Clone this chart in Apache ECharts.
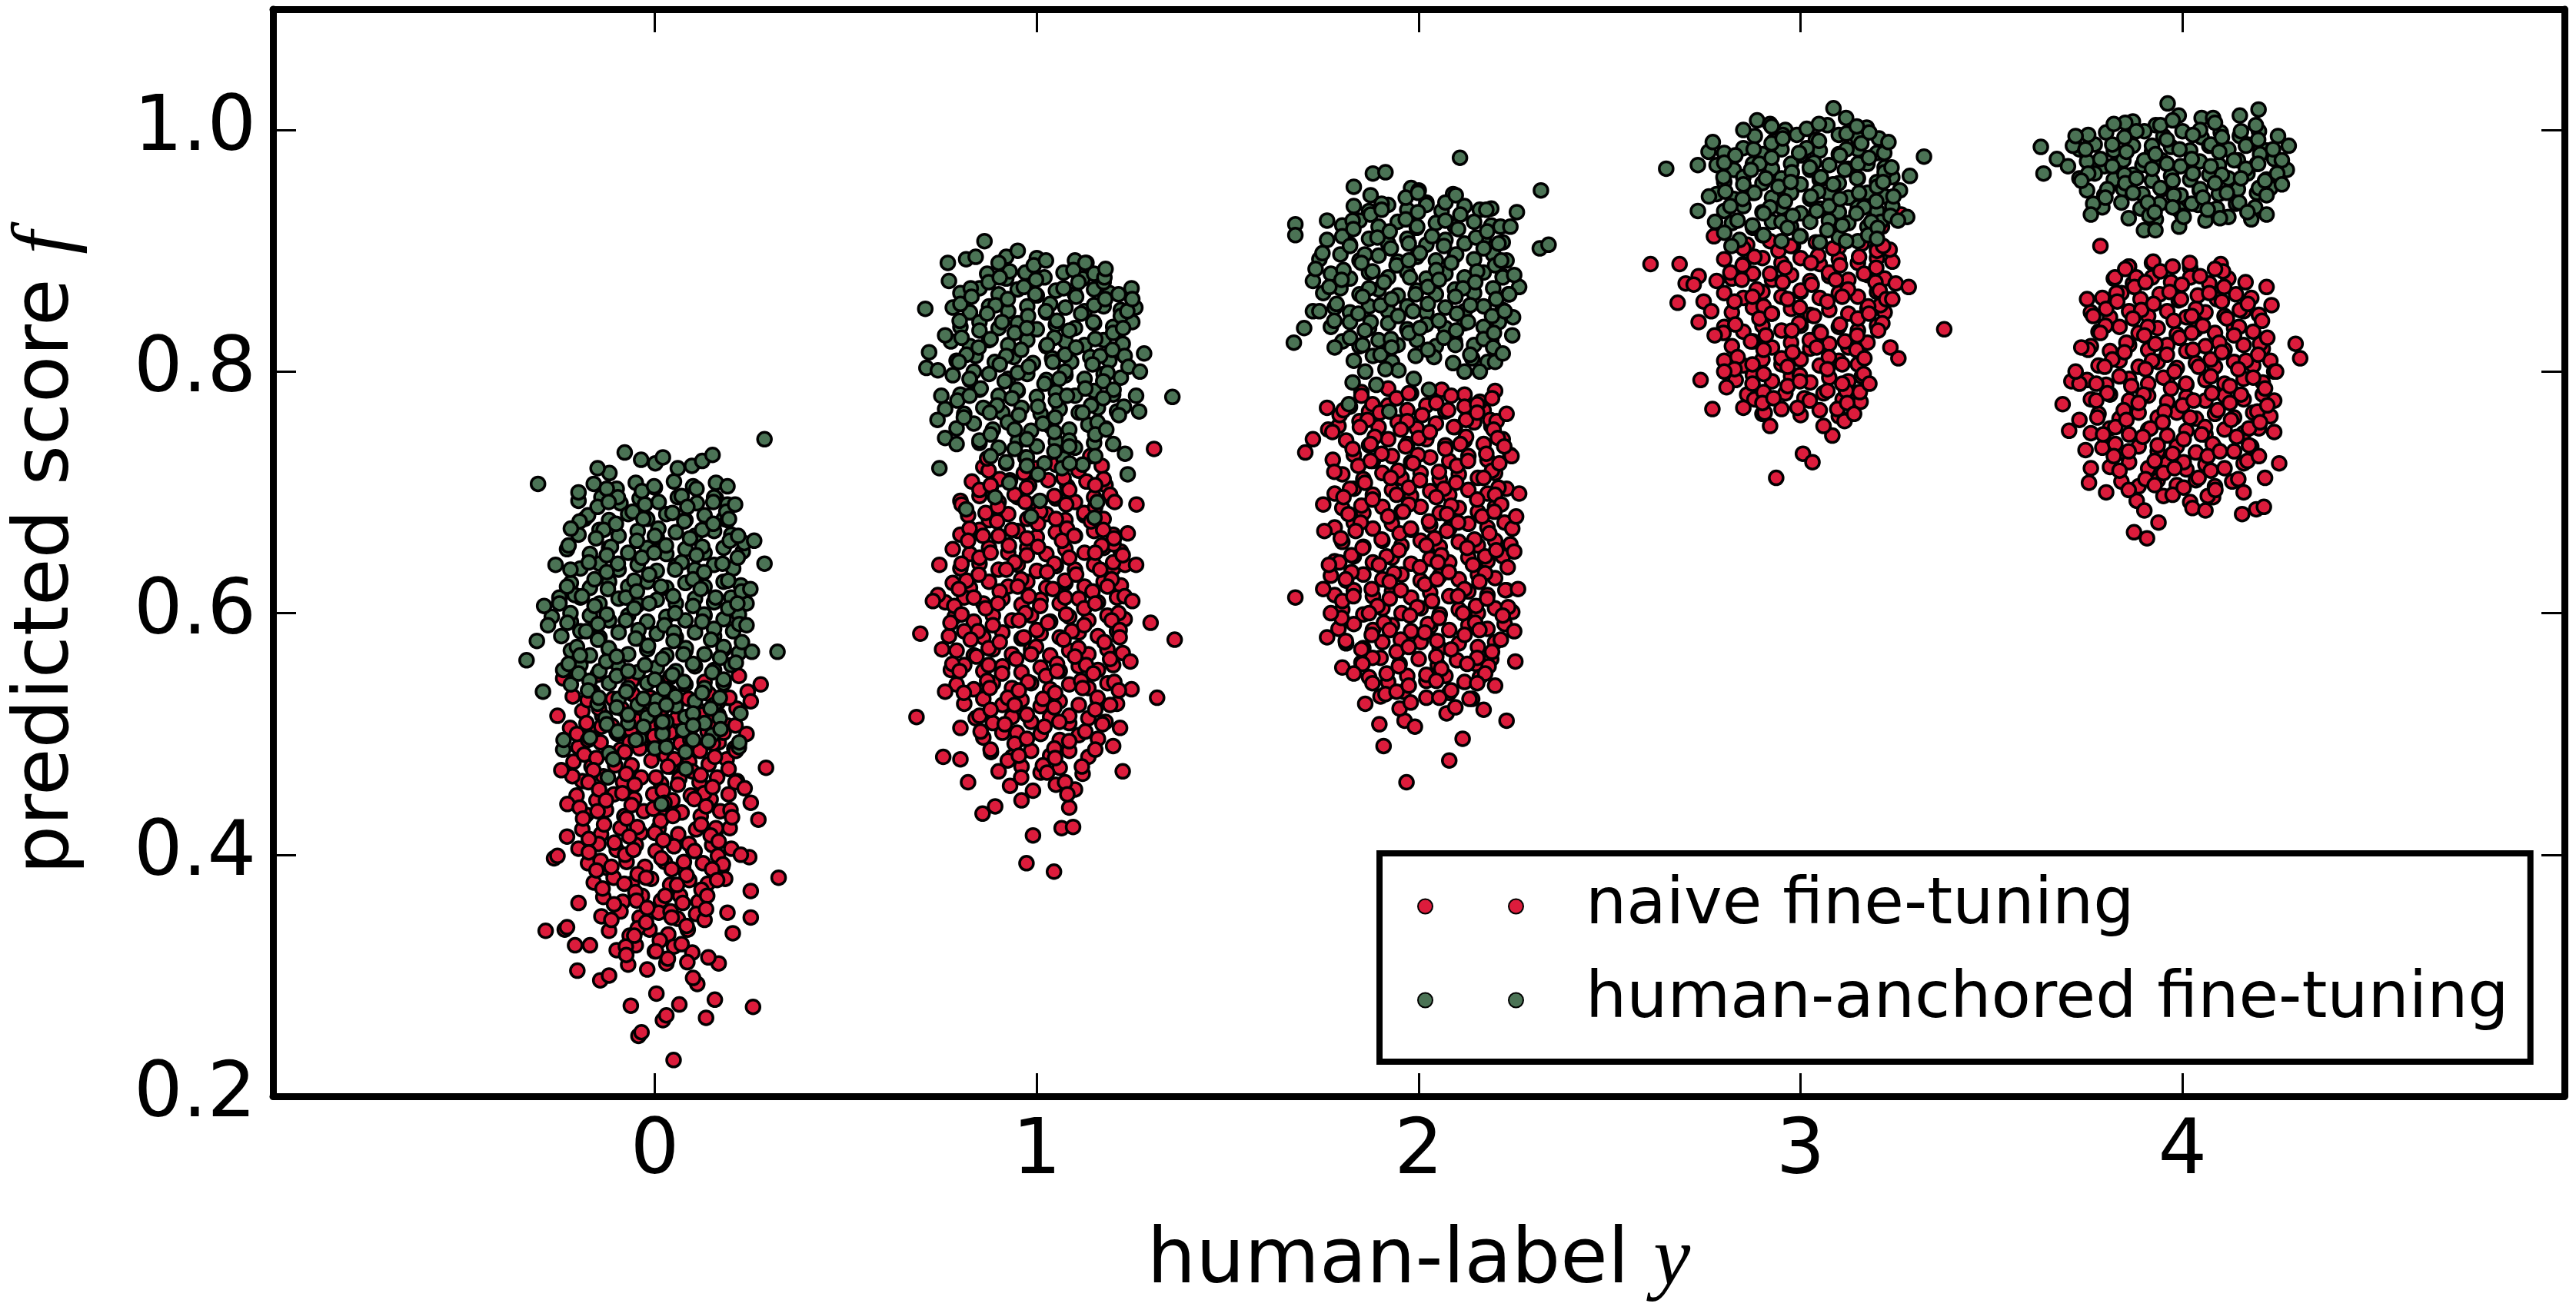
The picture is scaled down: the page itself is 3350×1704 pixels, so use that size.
<!DOCTYPE html>
<html>
<head>
<meta charset="utf-8">
<script src="https://cdn.jsdelivr.net/npm/echarts@6.0.0/dist/echarts.min.js"></script>
<style>
html,body{margin:0;padding:0;background:#fff;}
#chart{width:3350px;height:1704px;}
</style>
</head>
<body>
<div id="chart"></div>
<script>
// ---- axes / labels ----
const xTicks = [0, 1, 2, 3, 4];
const yTicks = [0.2, 0.4, 0.6, 0.8, 1.0];
const seriesNames = ['naive fine-tuning', 'human-anchored fine-tuning'];
const xTitle = 'human-label ';
const xTitleVar = 'y';
const yTitle = 'predicted score ';
const yTitleVar = 'f';

// ---- naive fine-tuning points [human label + jitter, score] ----
const naive0 = [
[-0.24,.546],[-0.15,.549],[-0.06,.544],[0.04,.547],[0.13,.543],[0.22,.548],
[-0.215,.531],[-0.163,.535],[-0.11,.529],[-0.058,.533],[-0.012,.53],[0.042,.534],[0.088,.529],[0.142,.533],[0.19,.53],[0.243,.535],
[-0.19,.519],[-0.138,.515],[-0.087,.521],[-0.033,.517],[0.017,.52],[0.063,.515],[0.117,.519],[0.166,.516],[0.214,.521],
[-0.222,.505],[-0.165,.501],[-0.113,.507],[-0.062,.503],[-0.008,.506],[0.04,.501],[0.092,.505],[0.138,.502],[0.19,.507],
[-0.2,.489],[-0.142,.493],[-0.09,.487],[-0.036,.491],[0.016,.488],[0.067,.492],[0.113,.489],[0.167,.493],[0.208,.488],
[-0.213,.477],[-0.166,.473],[-0.108,.479],[-0.061,.474],[-0.009,.478],[0.042,.473],[0.09,.477],[0.141,.475],[0.188,.479],
[-0.19,.461],[-0.135,.465],[-0.083,.46],[-0.036,.464],[0.016,.459],[0.064,.463],[0.117,.46],[0.163,.464],[0.215,.461],
[-0.205,.449],[-0.153,.445],[-0.107,.45],[-0.054,.446],[-0.004,.45],[0.046,.445],[0.094,.449],[0.146,.446],[0.193,.45],
[-0.18,.433],[-0.128,.437],[-0.08,.432],[-0.029,.436],[0.022,.431],[0.07,.435],[0.12,.432],[0.171,.436],
[-0.19,.421],[-0.141,.417],[-0.09,.422],[-0.038,.418],[0.01,.422],[0.061,.417],[0.108,.421],[0.158,.418],[0.196,.422],
[-0.2,.405],[-0.148,.409],[-0.1,.404],[-0.05,.408],[0.002,.403],[0.05,.407],[0.1,.404],[0.15,.408],[0.2,.405],
[-0.175,.393],[-0.124,.389],[-0.074,.394],[-0.026,.39],[0.026,.394],[0.074,.389],[0.126,.393],[0.176,.39],
[-0.16,.377],[-0.108,.381],[-0.06,.376],[-0.01,.38],[0.04,.375],[0.09,.379],[0.138,.376],[0.184,.38],
[-0.135,.365],[-0.084,.361],[-0.034,.366],[0.016,.362],[0.066,.366],[0.114,.361],
[-0.14,.349],[-0.09,.353],[-0.04,.348],[0.01,.352],[0.06,.347],[0.108,.351],[0.13,.346],
[-0.12,.337],[-0.066,.333],[-0.014,.338],[0.035,.334],[0.086,.338],
[-0.1,.321],[-0.05,.325],[0.0,.32],[0.05,.324],[0.098,.319],
[-0.07,.309],[-0.02,.305],[0.03,.31],
[0.049,.23],[-0.043,.25],[-0.035,.253],[0.257,.274],[0.134,.265],[0.021,.263],[0.03,.267],[-0.063,.275],[-0.203,.304],[-0.143,.296],
[-0.286,.337],[-0.236,.338],[-0.23,.34],[-0.209,.325],[-0.264,.397],[-0.255,.399],[0.324,.381],[0.291,.472],[0.271,.429],[0.251,.348],
[0.251,.37],[0.204,.335],[0.157,.28],[0.167,.31],[0.111,.293],[0.064,.276],[0.004,.285],[0.247,.398],[0.251,.443],[0.277,.541],
[0.251,.527],[-0.229,.442],[-0.184,.678]
];
const naive0b = [
[-0.176,.528],[-0.146,.521],[0.165,.526],[0.195,.53],
[-0.179,.509],[-0.14,.506],[-0.071,.515],[-0.049,.511],[0.018,.508],[0.057,.513],[0.124,.516],[0.146,.51],[0.211,.507],
[-0.204,.5],[-0.175,.495],[-0.097,.5],[-0.066,.493],[-0.002,.498],[0.02,.502],[0.093,.495],[0.152,.492],[0.18,.501],
[-0.185,.483],[-0.153,.48],[-0.079,.485],[-0.04,.488],[0.029,.482],[0.051,.479],[0.118,.486],[0.157,.481],[0.212,.486],
[-0.216,.465],[-0.161,.47],[-0.104,.474],[-0.075,.467],[0.003,.464],[0.034,.473],[0.098,.469],[0.12,.466],[0.193,.471],
[-0.174,.46],[-0.146,.454],[-0.085,.451],[-0.053,.458],[0.021,.453],[0.06,.458],[0.129,.451],[0.151,.456],[0.211,.46],
[-0.197,.439],[-0.15,.436],[-0.128,.445],[-0.061,.441],[-0.004,.438],[0.025,.443],[0.103,.446],[0.134,.44],[0.198,.437],
[-0.188,.43],[-0.133,.425],[-0.074,.43],[-0.046,.423],[0.015,.428],[0.047,.432],[0.121,.425],[0.16,.422],[0.202,.431],
[-0.173,.413],[-0.106,.41],[-0.067,.415],[0.0,.418],[0.022,.412],[0.089,.409],[0.146,.416],[0.167,.411],
[-0.173,.402],[-0.142,.395],[-0.078,.4],[-0.056,.404],[0.017,.397],[0.076,.394],[0.104,.403],[0.165,.399],[0.178,.392],
[-0.153,.387],[-0.114,.39],[-0.045,.384],[-0.023,.381],[0.044,.388],[0.083,.383],[0.15,.388],[0.163,.379],
[-0.137,.372],[-0.08,.376],[-0.051,.369],[0.027,.366],[0.058,.375],[0.122,.371],[0.137,.366],
[-0.107,.359],[-0.048,.362],[-0.02,.356],[0.041,.353],[0.073,.36],[0.134,.355],
[-0.114,.346],[-0.045,.339],[-0.023,.344],[0.044,.348],[0.083,.341],
[-0.076,.324],[-0.054,.333],[0.013,.329],[0.07,.326],
[-0.075,.317],[0.003,.32],[0.034,.314],[0.085,.311],
[-0.245,.47],[0.235,.455],[-0.23,.415],[0.225,.4],[-0.2,.36],[0.19,.352],[-0.17,.325],[0.14,.315],[-0.12,.3],[0.1,.298],[0.24,.5],[-0.255,.515]
];
const naive1 = [
[0.86,.721],[0.92,.724],[0.98,.72],[1.05,.723],[1.11,.719],[1.17,.722],
[0.83,.709],[0.88,.705],[0.93,.71],[0.98,.706],[1.03,.71],[1.08,.705],[1.13,.709],[1.18,.706],
[0.8,.693],[0.85,.697],[0.9,.692],[0.95,.696],[1.0,.691],[1.05,.695],[1.1,.692],[1.15,.696],[1.2,.693],
[0.82,.681],[0.875,.677],[0.925,.682],[0.975,.678],[1.025,.682],[1.075,.677],[1.125,.681],[1.175,.678],
[0.8,.665],[0.85,.669],[0.9,.664],[0.95,.668],[1.0,.663],[1.05,.667],[1.1,.664],[1.15,.668],[1.2,.665],
[0.78,.653],[0.825,.649],[0.875,.654],[0.925,.65],[0.975,.654],[1.025,.649],[1.075,.653],[1.125,.65],[1.175,.654],[1.22,.651],
[0.8,.637],[0.85,.641],[0.9,.636],[0.95,.64],[1.0,.635],[1.05,.639],[1.1,.636],[1.15,.64],[1.2,.637],
[0.78,.625],[0.825,.621],[0.875,.626],[0.925,.622],[0.975,.626],[1.025,.621],[1.075,.625],[1.125,.622],[1.175,.626],[1.22,.623],
[0.76,.609],[0.81,.613],[0.86,.608],[0.91,.612],[0.96,.607],[1.01,.611],[1.06,.608],[1.11,.612],[1.16,.609],[1.21,.613],
[0.785,.597],[0.835,.593],[0.885,.598],[0.935,.594],[0.985,.598],[1.035,.593],[1.085,.597],[1.135,.594],[1.185,.598],[1.23,.595],
[0.77,.581],[0.81,.585],[0.86,.58],[0.91,.584],[0.96,.579],[1.01,.583],[1.06,.58],[1.11,.584],[1.16,.581],[1.21,.585],
[0.79,.569],[0.835,.565],[0.885,.57],[0.935,.566],[0.985,.57],[1.035,.565],[1.085,.569],[1.135,.566],[1.185,.57],[1.225,.567],
[0.775,.553],[0.81,.557],[0.86,.552],[0.91,.556],[0.96,.551],[1.01,.555],[1.06,.552],[1.11,.556],[1.16,.553],[1.2,.557],
[0.79,.541],[0.835,.537],[0.885,.542],[0.935,.538],[0.985,.542],[1.035,.537],[1.085,.541],[1.135,.538],[1.185,.542],
[0.81,.525],[0.86,.529],[0.91,.524],[0.96,.528],[1.01,.523],[1.06,.527],[1.11,.524],[1.16,.528],[1.21,.525],
[0.84,.513],[0.885,.509],[0.935,.514],[0.985,.51],[1.035,.514],[1.085,.509],[1.135,.513],[1.18,.51],
[0.86,.497],[0.91,.501],[0.96,.496],[1.01,.5],[1.06,.495],[1.11,.499],[1.16,.496],
[0.88,.485],[0.935,.481],[0.985,.486],[1.035,.482],[1.085,.486],[1.135,.481],
[0.9,.469],[0.96,.473],[1.01,.468],[1.06,.472],[1.12,.467],
[0.93,.457],[0.99,.453],[1.05,.458],[1.1,.454],
[0.685,.514],[0.695,.583],[0.741,.615],[0.728,.61],[1.307,.736],[1.261,.69],[1.298,.592],[1.361,.578],[1.315,.53],[1.248,.537],
[1.218,.505],[1.225,.469],[0.755,.481],[0.8,.479],[0.973,.393],[1.045,.386],[0.99,.416],[1.065,.422],[1.095,.423],[0.858,.434],
[0.891,.44],[1.085,.439],[1.231,.64],[1.238,.666],[1.201,.657],[0.82,.46]
];
const naive1b = [
[0.874,.718],[0.903,.711],[0.966,.716],[0.998,.72],[1.07,.712],[1.109,.718],[1.175,.711],
[0.85,.702],[0.879,.706],[0.942,.698],[0.974,.704],[1.046,.697],[1.085,.702],[1.153,.706],[1.192,.698],
[0.803,.69],[0.866,.683],[0.898,.688],[0.97,.692],[1.009,.684],[1.077,.69],[1.124,.683],[1.153,.688],[1.204,.692],
[0.824,.67],[0.896,.676],[0.935,.669],[1.003,.674],[1.05,.678],[1.079,.67],[1.142,.676],[1.174,.669],
[0.82,.66],[0.859,.664],[0.927,.656],[0.974,.662],[1.003,.655],[1.066,.66],[1.098,.664],[1.17,.656],[1.202,.662],
[0.803,.641],[0.85,.646],[0.879,.65],[0.942,.642],[0.974,.648],[1.046,.641],[1.085,.646],[1.153,.65],[1.2,.642],[1.225,.648],
[0.816,.627],[0.848,.632],[0.92,.636],[0.959,.628],[1.027,.634],[1.074,.627],[1.103,.632],[1.166,.636],[1.196,.628],
[0.796,.62],[0.835,.613],[0.903,.618],[0.95,.622],[0.979,.614],[1.042,.62],[1.074,.613],[1.146,.618],[1.185,.622],[1.23,.614],
[0.784,.606],[0.803,.599],[0.866,.604],[0.898,.608],[0.97,.6],[1.009,.606],[1.077,.599],[1.124,.604],[1.153,.608],[1.214,.6],
[0.774,.592],[0.846,.585],[0.885,.59],[0.953,.594],[1.0,.586],[1.029,.592],[1.092,.585],[1.124,.59],[1.196,.594],[1.217,.586],
[0.827,.578],[0.874,.571],[0.903,.576],[0.966,.58],[0.998,.572],[1.07,.578],[1.109,.571],[1.177,.576],[1.217,.58],
[0.779,.558],[0.842,.564],[0.874,.557],[0.946,.562],[0.985,.566],[1.053,.558],[1.1,.564],[1.129,.557],[1.192,.562],
[0.798,.552],[0.87,.544],[0.909,.55],[0.977,.543],[1.024,.548],[1.053,.552],[1.116,.544],[1.148,.55],[1.203,.543],
[0.809,.534],[0.877,.538],[0.924,.53],[0.953,.536],[1.016,.529],[1.048,.534],[1.12,.538],[1.159,.53],[1.215,.536],
[0.85,.515],[0.879,.52],[0.942,.524],[0.974,.516],[1.046,.522],[1.085,.515],[1.153,.52],[1.192,.524],
[0.853,.502],[0.916,.508],[0.948,.501],[1.02,.506],[1.059,.51],[1.127,.502],[1.172,.508],
[0.879,.487],[0.942,.492],[0.974,.496],[1.046,.488],[1.085,.494],[1.153,.487],
[0.924,.478],[0.953,.482],[1.016,.474],[1.048,.48],[1.118,.473],
[0.959,.464],[1.027,.468],[1.074,.46],
[0.745,.64],[0.752,.57],[0.76,.535],[1.25,.61],[1.245,.56],[1.26,.64],[0.8,.505],[1.2,.49],[0.87,.728],[1.14,.73],[0.96,.445],[1.08,.45]
];
const naive2 = [
[1.85,.783],[1.92,.786],[1.98,.782],[2.06,.785],[2.12,.781],[2.2,.784],
[1.82,.771],[1.87,.767],[1.92,.772],[1.97,.768],[2.02,.772],[2.07,.767],[2.12,.771],[2.17,.768],
[1.79,.755],[1.845,.759],[1.895,.754],[1.945,.758],[1.995,.753],[2.045,.757],[2.095,.754],[2.145,.758],[2.19,.755],
[1.81,.743],[1.87,.739],[1.92,.744],[1.97,.74],[2.02,.744],[2.07,.739],[2.12,.743],[2.17,.74],[2.22,.744],
[1.775,.727],[1.83,.731],[1.88,.726],[1.93,.73],[1.98,.725],[2.03,.729],[2.08,.726],[2.13,.73],[2.18,.727],[2.24,.731],
[1.8,.715],[1.855,.711],[1.905,.716],[1.955,.712],[2.005,.716],[2.055,.711],[2.105,.715],[2.155,.712],[2.2,.716],
[1.78,.699],[1.83,.703],[1.88,.698],[1.93,.702],[1.98,.697],[2.03,.701],[2.08,.698],[2.13,.702],[2.18,.699],[2.23,.703],
[1.8,.687],[1.855,.683],[1.905,.688],[1.955,.684],[2.005,.688],[2.055,.683],[2.105,.687],[2.155,.684],[2.2,.688],
[1.78,.671],[1.83,.675],[1.88,.67],[1.93,.674],[1.98,.669],[2.03,.673],[2.08,.67],[2.13,.674],[2.18,.671],[2.225,.675],
[1.8,.659],[1.855,.655],[1.905,.66],[1.955,.656],[2.005,.66],[2.055,.655],[2.105,.659],[2.155,.656],[2.2,.66],[2.24,.657],
[1.78,.643],[1.83,.647],[1.88,.642],[1.93,.646],[1.98,.641],[2.03,.645],[2.08,.642],[2.13,.646],[2.18,.643],[2.22,.647],
[1.77,.631],[1.81,.627],[1.855,.632],[1.905,.628],[1.955,.632],[2.005,.627],[2.055,.631],[2.105,.628],[2.155,.632],[2.2,.629],
[1.78,.615],[1.83,.619],[1.88,.614],[1.93,.618],[1.98,.613],[2.03,.617],[2.08,.614],[2.13,.618],[2.18,.615],[2.23,.619],
[1.8,.603],[1.855,.599],[1.905,.604],[1.955,.6],[2.005,.604],[2.055,.599],[2.105,.603],[2.155,.6],[2.2,.604],[2.245,.601],
[1.79,.587],[1.83,.591],[1.88,.586],[1.93,.59],[1.98,.585],[2.03,.589],[2.08,.586],[2.13,.59],[2.18,.587],[2.225,.591],
[1.81,.575],[1.855,.571],[1.905,.576],[1.955,.572],[2.005,.576],[2.055,.571],[2.105,.575],[2.155,.572],[2.2,.576],
[1.85,.559],[1.9,.563],[1.95,.558],[2.0,.562],[2.05,.557],[2.1,.561],[2.15,.558],[2.19,.562],
[1.87,.547],[1.92,.543],[1.97,.548],[2.02,.544],[2.07,.548],[2.12,.543],[2.16,.547],
[1.9,.531],[1.96,.535],[2.02,.53],[2.08,.534],[2.14,.529],
[1.968,.46],[2.08,.478],[1.908,.49],[1.897,.508],[1.963,.511],[1.99,.506],[2.115,.496],[2.23,.511],[2.253,.56],[1.8,.555],
[1.677,.613],[1.753,.668],[2.263,.699],[2.243,.73],[2.25,.651],[1.703,.733],[1.723,.744],[1.763,.752],[1.793,.764],[2.16,.775],
[2.187,.76],[1.913,.533],[2.073,.517],[2.133,.529],[2.183,.556],[1.76,.58],[1.75,.62]
];
const naive2b = [
[1.85,.78],[1.879,.773],[1.942,.778],[1.974,.782],[2.046,.774],[2.085,.78],[2.153,.773],[2.192,.778],
[1.803,.768],[1.866,.76],[1.898,.766],[1.97,.759],[2.009,.764],[2.077,.768],[2.124,.76],[2.153,.766],[2.204,.759],
[1.774,.75],[1.846,.754],[1.885,.746],[1.953,.752],[2.0,.745],[2.029,.75],[2.092,.754],[2.124,.746],[2.196,.752],[2.207,.745],
[1.827,.736],[1.874,.74],[1.903,.732],[1.966,.738],[1.998,.731],[2.07,.736],[2.109,.74],[2.177,.732],[2.224,.738],
[1.779,.717],[1.842,.722],[1.874,.726],[1.946,.718],[1.985,.724],[2.053,.717],[2.1,.722],[2.129,.726],[2.192,.718],[2.211,.724],
[1.82,.703],[1.859,.708],[1.927,.712],[1.974,.704],[2.003,.71],[2.066,.703],[2.098,.708],[2.17,.712],[2.209,.704],
[1.803,.696],[1.85,.689],[1.879,.694],[1.942,.698],[1.974,.69],[2.046,.696],[2.085,.689],[2.153,.694],[2.2,.698],[2.216,.69],
[1.816,.682],[1.848,.675],[1.92,.68],[1.959,.684],[2.027,.676],[2.074,.682],[2.103,.675],[2.166,.68],[2.198,.684],
[1.796,.662],[1.835,.668],[1.903,.661],[1.95,.666],[1.979,.67],[2.042,.662],[2.074,.668],[2.146,.661],[2.185,.666],[2.245,.67],
[1.824,.648],[1.853,.654],[1.916,.647],[1.948,.652],[2.02,.656],[2.059,.648],[2.127,.654],[2.174,.647],[2.203,.652],
[1.792,.642],[1.824,.634],[1.896,.64],[1.935,.633],[2.003,.638],[2.05,.642],[2.079,.634],[2.142,.64],[2.174,.633],[2.233,.638],
[1.809,.628],[1.877,.62],[1.924,.626],[1.953,.619],[2.016,.624],[2.048,.628],[2.12,.62],[2.159,.626],[2.227,.619],
[1.8,.61],[1.829,.614],[1.892,.606],[1.924,.612],[1.996,.605],[2.035,.61],[2.103,.614],[2.15,.606],[2.179,.612],[2.234,.605],
[1.798,.596],[1.87,.6],[1.909,.592],[1.977,.598],[2.024,.591],[2.053,.596],[2.116,.6],[2.148,.592],[2.22,.598],
[1.809,.577],[1.877,.582],[1.924,.586],[1.953,.578],[2.016,.584],[2.048,.577],[2.12,.582],[2.159,.586],[2.215,.578],
[1.85,.57],[1.879,.563],[1.942,.568],[1.974,.572],[2.046,.564],[2.085,.57],[2.153,.563],[2.192,.568],
[1.853,.558],[1.916,.55],[1.948,.556],[2.02,.549],[2.059,.554],[2.127,.558],[2.174,.55],
[1.879,.542],[1.942,.535],[1.974,.54],[2.046,.544],[2.085,.536],[2.153,.542],
[1.95,.521],[1.979,.526],[2.054,.53],[2.096,.522],
[1.76,.77],[2.23,.765],[1.75,.69],[2.255,.68],[1.765,.64],[2.26,.62],[1.77,.6],[2.25,.585],[1.83,.55],[2.2,.54],[1.86,.525],[2.17,.52]
];
const naive3 = [
[2.86,.905],[2.92,.908],[2.98,.904],[3.04,.907],[3.1,.903],[3.16,.906],[3.2,.902],[3.213,.92],[3.263,.93],
[2.8,.893],[2.85,.889],[2.9,.894],[2.95,.89],[3.0,.894],[3.05,.889],[3.1,.893],[3.15,.89],[3.2,.894],[3.24,.891],
[2.82,.877],[2.875,.881],[2.925,.876],[2.975,.88],[3.025,.875],[3.075,.879],[3.125,.876],[3.175,.88],[3.22,.877],
[2.8,.865],[2.85,.861],[2.9,.866],[2.95,.862],[3.0,.866],[3.05,.861],[3.1,.865],[3.15,.862],[3.2,.866],
[2.82,.849],[2.875,.853],[2.925,.848],[2.975,.852],[3.025,.847],[3.075,.851],[3.125,.848],[3.175,.852],[3.22,.849],
[2.8,.837],[2.85,.833],[2.9,.838],[2.95,.834],[3.0,.838],[3.05,.833],[3.1,.837],[3.15,.834],[3.2,.838],
[2.82,.821],[2.875,.825],[2.925,.82],[2.975,.824],[3.025,.819],[3.075,.823],[3.125,.82],[3.175,.824],
[2.8,.809],[2.85,.805],[2.9,.81],[2.95,.806],[3.0,.81],[3.05,.805],[3.1,.809],[3.15,.806],
[2.83,.793],[2.875,.797],[2.925,.792],[2.975,.796],[3.025,.791],[3.075,.795],[3.125,.792],[3.16,.796],
[2.86,.781],[2.91,.777],[2.96,.782],[3.01,.778],[3.06,.782],[3.11,.777],[3.15,.781],
[2.9,.765],[2.95,.769],[3.0,.764],[3.05,.768],[3.1,.763],
[2.607,.889],[2.683,.889],[2.699,.873],[2.733,.879],[2.678,.857],[2.746,.858],[2.733,.841],[2.766,.85],[3.376,.835],[3.256,.811],
[3.249,.873],[3.283,.87],[3.209,.855],[3.233,.901],[2.773,.912],[2.738,.793],[2.769,.769],[2.806,.787],[2.936,.712],[3.006,.732],
[3.031,.725],[3.083,.747],[3.115,.759],[3.157,.775],[3.119,.784],[2.906,.766],[2.879,.777],[2.72,.872]
];
const naive3b = [
[2.85,.902],[2.879,.895],[2.942,.9],[2.974,.904],[3.046,.896],[3.085,.902],[3.153,.895],[3.2,.9],[3.216,.904],
[2.816,.882],[2.848,.888],[2.92,.881],[2.959,.886],[3.027,.89],[3.074,.882],[3.103,.888],[3.166,.881],[3.198,.886],
[2.846,.876],[2.885,.868],[2.953,.874],[3.0,.867],[3.029,.872],[3.092,.876],[3.124,.868],[3.196,.874],[3.207,.867],
[2.827,.858],[2.874,.862],[2.903,.854],[2.966,.86],[2.998,.853],[3.07,.858],[3.109,.862],[3.177,.854],[3.224,.86],
[2.829,.839],[2.892,.844],[2.924,.848],[2.996,.84],[3.035,.846],[3.103,.839],[3.15,.844],[3.179,.848],[3.214,.84],
[2.798,.832],[2.87,.825],[2.909,.83],[2.977,.834],[3.024,.826],[3.053,.832],[3.116,.825],[3.148,.83],[3.203,.834],
[2.835,.812],[2.903,.818],[2.95,.811],[2.979,.816],[3.042,.82],[3.074,.812],[3.146,.818],[3.167,.811],
[2.827,.802],[2.874,.806],[2.903,.798],[2.966,.804],[2.998,.797],[3.07,.802],[3.109,.806],[3.165,.798],
[2.874,.79],[2.903,.783],[2.966,.788],[2.998,.792],[3.07,.784],[3.109,.79],[3.155,.783],
[2.9,.774],[2.929,.778],[2.992,.77],[3.024,.776],[3.096,.769],[3.122,.774],
[2.78,.875],[2.775,.83],[3.24,.86],[3.235,.82],[2.8,.8],[3.18,.79],[2.85,.77],[3.14,.765],[2.92,.755],[3.06,.755]
];
const naive4 = [
[3.86,.887],[3.92,.89],[4.02,.886],[4.1,.889],
[3.82,.877],[3.87,.873],[3.92,.878],[3.97,.874],[4.02,.878],[4.07,.873],[4.12,.877],
[3.79,.861],[3.84,.865],[3.89,.86],[3.94,.864],[3.99,.859],[4.04,.863],[4.09,.86],[4.14,.864],[4.18,.861],
[3.76,.849],[3.81,.845],[3.86,.85],[3.91,.846],[3.96,.85],[4.01,.845],[4.06,.849],[4.11,.846],[4.16,.85],[4.2,.847],
[3.78,.833],[3.835,.837],[3.885,.832],[3.935,.836],[3.985,.831],[4.035,.835],[4.085,.832],[4.135,.836],[4.185,.833],
[3.76,.821],[3.81,.817],[3.86,.822],[3.91,.818],[3.96,.822],[4.01,.817],[4.06,.821],[4.11,.818],[4.16,.822],[4.21,.819],
[3.78,.805],[3.835,.809],[3.885,.804],[3.935,.808],[3.985,.803],[4.035,.807],[4.085,.804],[4.135,.808],[4.185,.805],[4.23,.809],
[3.75,.793],[3.8,.789],[3.86,.794],[3.91,.79],[3.96,.794],[4.01,.789],[4.06,.793],[4.11,.79],[4.16,.794],[4.21,.791],
[3.76,.777],[3.81,.781],[3.86,.776],[3.91,.78],[3.96,.775],[4.01,.779],[4.06,.776],[4.11,.78],[4.16,.777],[4.21,.781],[4.24,.776],
[3.78,.765],[3.835,.761],[3.885,.766],[3.935,.762],[3.985,.766],[4.035,.761],[4.085,.765],[4.135,.762],[4.185,.766],[4.23,.763],
[3.76,.749],[3.81,.753],[3.86,.748],[3.91,.752],[3.96,.747],[4.01,.751],[4.06,.748],[4.11,.752],[4.16,.749],[4.2,.753],
[3.79,.737],[3.835,.733],[3.885,.738],[3.935,.734],[3.985,.738],[4.035,.733],[4.085,.737],[4.135,.734],[4.18,.738],
[3.81,.721],[3.86,.725],[3.91,.72],[3.96,.724],[4.01,.719],[4.06,.723],[4.11,.72],[4.16,.724],
[3.84,.709],[3.885,.705],[3.935,.71],[3.985,.706],[4.035,.71],[4.085,.705],[4.13,.709],
[3.88,.693],[3.95,.697],[4.02,.692],[4.08,.696],
[3.785,.904],[3.859,.887],[3.923,.891],[4.019,.89],[3.823,.878],[4.106,.883],[3.686,.773],[3.703,.751],[3.709,.792],[3.746,.735],
[3.755,.708],[4.296,.823],[4.308,.811],[4.253,.724],[4.233,.855],[4.216,.712],[4.156,.682],[4.193,.686],[4.213,.688],[3.873,.667],
[3.907,.662],[3.937,.675],[4.026,.687],[3.73,.79],[3.72,.8]
];
const naive4b = [
[3.85,.885],[3.879,.878],[3.942,.883],[3.974,.887],[4.046,.879],[4.085,.885],
[3.827,.865],[3.874,.87],[3.903,.874],[3.966,.866],[3.998,.872],[4.07,.865],[4.109,.87],[4.165,.874],
[3.8,.852],[3.829,.858],[3.892,.851],[3.924,.856],[3.996,.86],[4.035,.852],[4.103,.858],[4.15,.851],[4.171,.856],
[3.766,.846],[3.798,.838],[3.87,.844],[3.909,.837],[3.977,.842],[4.024,.846],[4.053,.838],[4.116,.844],[4.148,.837],[4.208,.842],
[3.785,.832],[3.853,.824],[3.9,.83],[3.929,.823],[3.992,.828],[4.024,.832],[4.096,.824],[4.135,.83],[4.203,.823],[4.222,.828],
[3.753,.818],[3.816,.81],[3.848,.816],[3.92,.809],[3.959,.814],[4.027,.818],[4.074,.81],[4.103,.816],[4.166,.809],[4.198,.814],
[3.796,.804],[3.835,.796],[3.903,.802],[3.95,.795],[3.979,.8],[4.042,.804],[4.074,.796],[4.146,.802],[4.185,.795],[4.24,.8],
[3.774,.79],[3.803,.782],[3.866,.788],[3.898,.781],[3.97,.786],[4.009,.79],[4.077,.782],[4.124,.788],[4.153,.781],[4.216,.786],
[3.774,.776],[3.846,.768],[3.885,.774],[3.953,.767],[4.0,.772],[4.029,.776],[4.092,.768],[4.124,.774],[4.196,.767],[4.222,.772],
[3.777,.762],[3.824,.754],[3.853,.76],[3.916,.753],[3.948,.758],[4.02,.762],[4.059,.754],[4.127,.76],[4.174,.753],[4.203,.758],
[3.792,.748],[3.824,.74],[3.896,.746],[3.935,.739],[4.003,.744],[4.05,.748],[4.079,.74],[4.142,.746],[4.174,.739],
[3.82,.73],[3.859,.734],[3.927,.726],[3.974,.732],[4.003,.725],[4.066,.73],[4.098,.734],[4.17,.726],
[3.835,.718],[3.903,.711],[3.95,.716],[3.979,.72],[4.042,.712],[4.074,.718],[4.146,.711],
[3.859,.702],[3.927,.706],[3.974,.698],[4.003,.704],[4.066,.697],[4.086,.702],
[3.75,.86],[4.22,.87],[3.735,.82],[4.245,.8],[3.73,.76],[4.24,.75],[3.76,.72],[4.2,.73],[3.8,.7],[4.16,.7],[3.9,.685],[4.06,.685]
];

// ---- human-anchored fine-tuning points ----
const anchored0 = [
[-0.119,.716],[-0.079,.733],[-0.036,.727],[0.001,.724],[0.021,.729],[0.097,.722],[0.124,.726],[0.151,.731],
[-0.16,.707],[-0.1,.703],[-0.05,.708],[0.0,.704],[0.05,.709],[0.1,.705],[0.16,.708],
[-0.2,.693],[-0.14,.696],[-0.09,.691],[-0.04,.695],[0.01,.692],[0.06,.696],[0.11,.691],[0.16,.695],[0.19,.69],
[-0.175,.681],[-0.12,.677],[-0.07,.682],[-0.02,.678],[0.03,.682],[0.08,.677],[0.13,.681],[0.18,.678],
[-0.2,.665],[-0.145,.669],[-0.095,.664],[-0.045,.668],[0.005,.663],[0.055,.667],[0.105,.664],[0.155,.668],[0.2,.665],
[-0.23,.653],[-0.17,.649],[-0.12,.654],[-0.07,.65],[-0.02,.654],[0.03,.649],[0.08,.653],[0.13,.65],[0.18,.654],[0.23,.651],
[-0.195,.637],[-0.145,.641],[-0.095,.636],[-0.045,.64],[0.005,.635],[0.055,.639],[0.105,.636],[0.155,.64],[0.205,.637],
[-0.22,.625],[-0.17,.621],[-0.12,.626],[-0.07,.622],[-0.02,.626],[0.03,.621],[0.08,.625],[0.13,.622],[0.18,.626],[0.225,.623],
[-0.25,.609],[-0.195,.613],[-0.145,.608],[-0.095,.612],[-0.045,.607],[0.005,.611],[0.055,.608],[0.105,.612],[0.155,.609],[0.2,.613],[0.24,.608],
[-0.27,.597],[-0.22,.593],[-0.17,.598],[-0.12,.594],[-0.07,.598],[-0.02,.593],[0.03,.597],[0.08,.594],[0.13,.598],[0.18,.595],[0.22,.599],
[-0.245,.581],[-0.195,.585],[-0.145,.58],[-0.095,.584],[-0.045,.579],[0.005,.583],[0.055,.58],[0.105,.584],[0.155,.581],[0.205,.585],
[-0.22,.569],[-0.17,.565],[-0.12,.57],[-0.07,.566],[-0.02,.57],[0.03,.565],[0.08,.569],[0.13,.566],[0.18,.57],[0.22,.567],
[-0.24,.553],[-0.195,.557],[-0.145,.552],[-0.095,.556],[-0.045,.551],[0.005,.555],[0.055,.552],[0.105,.556],[0.155,.553],[0.2,.557],
[-0.22,.541],[-0.17,.537],[-0.12,.542],[-0.07,.538],[-0.02,.542],[0.03,.537],[0.08,.541],[0.13,.538],[0.18,.542],
[-0.15,.525],[-0.095,.529],[-0.045,.524],[0.005,.528],[0.055,.523],[0.105,.527],[0.155,.524],
[-0.13,.513],[-0.07,.509],[-0.02,.514],[0.03,.51],[0.08,.514],[0.13,.509],[0.17,.513],
[-0.17,.497],[-0.1,.501],[-0.04,.496],[0.02,.5],[0.1,.495],[0.15,.499],
[-0.24,.487],[-0.12,.484],[0.0,.488],[0.08,.485],[0.22,.489],
[-0.123,.464],[0.081,.471],[0.017,.442],[-0.109,.479],
[-0.306,.707],[-0.336,.561],[-0.309,.577],[-0.293,.535],[0.321,.568],[0.287,.641],[0.287,.744],[0.254,.568],[0.191,.677],[0.234,.658],
[0.26,.66],[-0.239,.495],[0.221,.493],[0.224,.517],[-0.29,.606],[-0.25,.613],[-0.21,.615]
];
const anchored0b = [
[-0.126,.703],[-0.097,.696],[-0.034,.701],[-0.002,.705],[0.07,.697],[0.109,.703],[0.155,.696],
[-0.15,.688],[-0.121,.692],[-0.058,.684],[-0.026,.69],[0.046,.683],[0.085,.688],[0.153,.692],[0.187,.684],
[-0.197,.676],[-0.134,.669],[-0.102,.674],[-0.03,.678],[0.009,.67],[0.077,.676],[0.124,.669],[0.153,.674],[0.194,.678],
[-0.226,.656],[-0.154,.662],[-0.115,.655],[-0.047,.66],[0.0,.664],[0.029,.656],[0.092,.662],[0.124,.655],[0.196,.66],[0.218,.664],
[-0.173,.642],[-0.126,.648],[-0.097,.641],[-0.034,.646],[-0.002,.65],[0.07,.642],[0.109,.648],[0.177,.641],[0.217,.646],
[-0.221,.636],[-0.158,.628],[-0.126,.634],[-0.054,.627],[-0.015,.632],[0.053,.636],[0.1,.628],[0.129,.634],[0.192,.627],
[-0.23,.622],[-0.191,.614],[-0.123,.62],[-0.076,.613],[-0.047,.618],[0.016,.622],[0.048,.614],[0.12,.62],[0.159,.613],[0.227,.618],
[-0.25,.608],[-0.221,.6],[-0.158,.606],[-0.126,.599],[-0.054,.604],[-0.015,.608],[0.053,.6],[0.1,.606],[0.129,.599],[0.192,.604],[0.216,.608],
[-0.229,.592],[-0.18,.585],[-0.149,.591],[-0.076,.594],[-0.043,.586],[0.025,.59],[0.05,.584],[0.124,.593],[0.155,.587],[0.221,.591],
[-0.204,.572],[-0.149,.578],[-0.121,.571],[-0.05,.579],[-0.018,.573],[0.049,.577],[0.081,.571],[0.147,.578],[0.18,.572],[0.228,.576],
[-0.226,.558],[-0.196,.565],[-0.127,.56],[-0.1,.564],[-0.026,.557],[0.02,.562],[0.075,.566],[0.1,.558],[0.171,.563],[0.212,.559],
[-0.2,.55],[-0.171,.544],[-0.1,.548],[-0.07,.552],[0.0,.545],[0.046,.549],[0.076,.543],[0.15,.551],[0.18,.545],
[-0.175,.536],[-0.147,.53],[-0.075,.535],[-0.03,.529],[0.024,.537],[0.054,.531],[0.124,.534],[0.17,.53],
[-0.1,.522],[-0.07,.516],[0.0,.52],[0.03,.524],[0.1,.517],[0.146,.521],
[-0.126,.508],[-0.097,.502],[-0.03,.506],[0.02,.51],[0.074,.503],[0.1,.507],[0.172,.504],
[-0.05,.495],[0.03,.489],[0.14,.494],
[-0.26,.64],[0.25,.62],[0.24,.59],[-0.28,.59],[-0.22,.67],[0.21,.69],[-0.2,.7],[0.19,.705],[-0.15,.72],[0.06,.72]
];
const anchored1 = [
[0.863,.908],[0.767,.89],[0.815,.893],[0.92,.895],[0.95,.9],[1.0,.894],[1.1,.892],[1.13,.89],
[0.87,.881],[0.92,.877],[0.97,.882],[1.02,.878],[1.07,.882],[1.12,.877],[1.15,.881],
[0.8,.865],[0.85,.869],[0.9,.864],[0.95,.868],[1.0,.863],[1.05,.867],[1.1,.864],[1.15,.868],[1.19,.865],
[0.78,.853],[0.825,.849],[0.875,.854],[0.925,.85],[0.975,.854],[1.025,.849],[1.075,.853],[1.125,.85],[1.175,.854],[1.22,.851],
[0.8,.837],[0.85,.841],[0.9,.836],[0.95,.84],[1.0,.835],[1.05,.839],[1.1,.836],[1.15,.84],[1.2,.837],[1.25,.841],
[0.775,.825],[0.825,.821],[0.875,.826],[0.925,.822],[0.975,.826],[1.025,.821],[1.075,.825],[1.125,.822],[1.175,.826],[1.225,.823],
[0.79,.809],[0.84,.813],[0.89,.808],[0.94,.812],[0.99,.807],[1.04,.811],[1.09,.808],[1.14,.812],[1.19,.809],[1.23,.813],
[0.78,.797],[0.825,.793],[0.875,.798],[0.925,.794],[0.975,.798],[1.025,.793],[1.075,.797],[1.125,.794],[1.175,.798],[1.22,.795],
[0.8,.781],[0.85,.785],[0.9,.78],[0.95,.784],[1.0,.779],[1.05,.783],[1.1,.78],[1.15,.784],[1.2,.781],
[0.76,.769],[0.81,.765],[0.86,.77],[0.91,.766],[0.96,.77],[1.01,.765],[1.06,.769],[1.11,.766],[1.16,.77],[1.21,.767],
[0.79,.753],[0.835,.757],[0.885,.752],[0.935,.756],[0.985,.751],[1.035,.755],[1.085,.752],[1.135,.756],[1.18,.753],
[0.85,.741],[0.9,.737],[0.95,.742],[1.0,.738],[1.05,.742],[1.1,.737],[1.15,.741],
[0.92,.725],[0.97,.729],[1.02,.724],[1.07,.728],[1.12,.723],
[0.708,.852],[0.718,.816],[0.711,.803],[0.741,.801],[0.74,.76],[0.76,.745],[1.355,.779],[1.268,.767],[1.281,.815],[1.258,.853],
[1.248,.869],[1.175,.874],[0.745,.72],[0.815,.686],[1.231,.732],[1.238,.715],[0.891,.696],[1.008,.693],[1.158,.692],[1.151,.679],
[0.985,.68],[0.928,.708]
];
const anchored1b = [
[0.9,.89],[0.929,.883],[0.992,.888],[1.024,.892],[1.096,.884],[1.127,.89],
[0.827,.869],[0.874,.874],[0.903,.878],[0.966,.87],[0.998,.876],[1.07,.869],[1.109,.874],[1.177,.878],
[0.8,.856],[0.829,.862],[0.892,.855],[0.924,.86],[0.996,.864],[1.035,.856],[1.103,.862],[1.15,.855],[1.179,.86],[1.214,.864],
[0.798,.842],[0.87,.848],[0.909,.841],[0.977,.846],[1.024,.85],[1.053,.842],[1.116,.848],[1.148,.841],[1.22,.846],[1.237,.85],
[0.803,.828],[0.85,.834],[0.879,.827],[0.942,.832],[0.974,.836],[1.046,.828],[1.085,.834],[1.153,.827],[1.2,.832],[1.226,.836],
[0.816,.814],[0.848,.82],[0.92,.813],[0.959,.818],[1.027,.822],[1.074,.814],[1.103,.82],[1.166,.813],[1.198,.818],
[0.796,.808],[0.835,.8],[0.903,.806],[0.95,.799],[0.979,.804],[1.042,.808],[1.074,.8],[1.146,.806],[1.185,.799],[1.24,.804],
[0.824,.794],[0.853,.786],[0.916,.792],[0.948,.785],[1.02,.79],[1.059,.794],[1.127,.786],[1.174,.792],[1.201,.785],
[0.792,.776],[0.824,.78],[0.896,.772],[0.935,.778],[1.003,.771],[1.05,.776],[1.079,.78],[1.142,.772],[1.174,.778],[1.228,.771],
[0.809,.762],[0.877,.766],[0.924,.758],[0.953,.764],[1.016,.757],[1.048,.762],[1.12,.766],[1.159,.758],[1.215,.764],
[0.85,.743],[0.879,.748],[0.942,.752],[0.974,.744],[1.046,.75],[1.085,.743],[1.153,.748],[1.182,.752],
[0.879,.73],[0.942,.736],[0.974,.729],[1.046,.734],[1.085,.738],[1.153,.73],
[0.974,.722],[1.003,.715],[1.066,.72],[1.086,.724],
[0.77,.875],[0.76,.83],[1.25,.86],[1.27,.8],[1.26,.78],[0.75,.78],[0.79,.74],[1.2,.74],[0.84,.895],[1.18,.885]
];
const anchored2 = [
[2.108,.977],[1.88,.964],[1.913,.965],[1.83,.953],[1.98,.952],[2.0,.95],[2.09,.947],[2.02,.94],
[1.83,.937],[1.87,.933],[1.92,.938],[1.97,.934],[2.02,.938],[2.06,.933],[2.12,.937],[2.16,.934],
[1.8,.921],[1.845,.925],[1.895,.92],[1.945,.924],[1.995,.919],[2.045,.923],[2.095,.92],[2.145,.924],[2.19,.921],
[1.76,.909],[1.82,.905],[1.87,.91],[1.92,.906],[1.97,.91],[2.02,.905],[2.07,.909],[2.12,.906],[2.17,.91],[2.22,.907],
[1.74,.893],[1.795,.897],[1.845,.892],[1.895,.896],[1.945,.891],[1.995,.895],[2.045,.892],[2.095,.896],[2.145,.893],[2.195,.897],[2.23,.892],
[1.77,.881],[1.82,.877],[1.87,.882],[1.92,.878],[1.97,.882],[2.02,.877],[2.07,.881],[2.12,.878],[2.17,.882],[2.22,.879],
[1.75,.865],[1.795,.869],[1.845,.864],[1.895,.868],[1.945,.863],[1.995,.867],[2.045,.864],[2.095,.868],[2.145,.865],[2.195,.869],[2.235,.864],
[1.78,.853],[1.82,.849],[1.87,.854],[1.92,.85],[1.97,.854],[2.02,.849],[2.07,.853],[2.12,.85],[2.17,.854],[2.22,.851],
[1.77,.837],[1.82,.841],[1.87,.836],[1.92,.84],[1.97,.835],[2.02,.839],[2.07,.836],[2.12,.84],[2.17,.837],[2.21,.841],
[1.8,.825],[1.845,.821],[1.895,.826],[1.945,.822],[1.995,.826],[2.045,.821],[2.095,.825],[2.145,.822],[2.19,.826],
[1.83,.809],[1.88,.813],[1.93,.808],[2.04,.812],[2.09,.807],[2.14,.811],[2.18,.808],
[1.677,.922],[1.677,.913],[1.673,.824],[1.7,.836],[1.723,.85],[1.723,.875],[2.32,.95],[2.257,.932],[2.317,.902],[2.34,.905],
[2.19,.935],[2.263,.87],[2.247,.845],[1.827,.791],[1.817,.773],[1.889,.789],[1.987,.794],[2.027,.785],[1.923,.767],[1.947,.801],
[1.913,.802],[2.2,.808],[2.12,.8]
];
const anchored2b = [
[1.874,.946],[1.903,.939],[1.966,.944],[1.998,.948],[2.07,.94],[2.097,.946],
[1.827,.925],[1.874,.93],[1.903,.934],[1.966,.926],[1.998,.932],[2.07,.925],[2.109,.93],[2.177,.934],
[1.8,.912],[1.829,.918],[1.892,.911],[1.924,.916],[1.996,.92],[2.035,.912],[2.103,.918],[2.15,.911],[2.179,.916],[2.214,.92],
[1.748,.898],[1.82,.904],[1.859,.897],[1.927,.902],[1.974,.906],[2.003,.898],[2.066,.904],[2.098,.897],[2.17,.902],[2.209,.906],
[1.803,.884],[1.85,.89],[1.879,.883],[1.942,.888],[1.974,.892],[2.046,.884],[2.085,.89],[2.153,.883],[2.2,.888],[2.216,.892],
[1.766,.87],[1.798,.876],[1.87,.869],[1.909,.874],[1.977,.878],[2.024,.87],[2.053,.876],[2.116,.869],[2.148,.874],[2.22,.878],
[1.785,.856],[1.853,.862],[1.9,.855],[1.929,.86],[1.992,.864],[2.024,.856],[2.096,.862],[2.135,.855],[2.203,.86],[2.237,.864],
[1.779,.842],[1.842,.848],[1.874,.841],[1.946,.846],[1.985,.85],[2.053,.842],[2.1,.848],[2.129,.841],[2.192,.846],[2.225,.85],
[1.82,.828],[1.859,.834],[1.927,.827],[1.974,.832],[2.003,.836],[2.066,.828],[2.098,.834],[2.17,.827],[2.197,.832],
[1.853,.822],[1.9,.814],[1.929,.82],[1.992,.813],[2.024,.818],[2.096,.822],[2.135,.814],[2.195,.82],
[1.76,.925],[2.24,.92],[1.73,.885],[2.25,.88],[1.74,.85],[2.245,.83],[1.78,.82],[2.22,.815],[1.86,.8],[2.16,.8]
];
const anchored3 = [
[3.086,1.018],[3.119,1.01],[3.173,1.002],[2.886,1.008],[2.92,1.005],[2.96,1.0],[3.07,1.004],
[2.88,.995],[2.93,.991],[2.99,.996],[3.04,.992],[3.1,.996],[3.15,.993],
[2.8,.981],[2.85,.985],[2.9,.98],[2.95,.984],[3.0,.979],[3.05,.983],[3.1,.98],[3.15,.984],[3.2,.981],
[2.78,.971],[2.825,.967],[2.875,.972],[2.925,.968],[2.975,.972],[3.025,.967],[3.075,.971],[3.125,.968],[3.175,.972],[3.22,.969],
[2.8,.957],[2.85,.961],[2.9,.956],[2.95,.96],[3.0,.955],[3.05,.959],[3.1,.956],[3.15,.96],[3.2,.957],[3.24,.961],
[2.78,.947],[2.825,.943],[2.875,.948],[2.925,.944],[2.975,.948],[3.025,.943],[3.075,.947],[3.125,.944],[3.175,.948],[3.22,.945],
[2.8,.933],[2.85,.937],[2.9,.932],[2.95,.936],[3.0,.931],[3.05,.935],[3.1,.932],[3.15,.936],[3.2,.933],[3.24,.937],
[2.82,.923],[2.875,.919],[2.925,.924],[2.975,.92],[3.025,.924],[3.075,.919],[3.125,.923],[3.175,.92],[3.21,.924],
[2.84,.909],[2.9,.913],[2.95,.908],[3.0,.912],[3.05,.907],[3.1,.911],[3.15,.908],
[2.648,.968],[2.731,.971],[2.759,.982],[2.731,.933],[3.323,.978],[3.286,.962],[3.279,.928],[2.776,.924],[2.819,.904],[3.119,.908],
[3.26,.95]
];
const anchored3b = [
[2.924,1.003],[2.953,.996],[3.016,1.001],[3.048,1.005],[3.12,.997],[3.147,1.003],
[2.877,.984],[2.924,.989],[2.953,.993],[3.016,.985],[3.048,.991],[3.12,.984],[3.159,.989],[3.205,.993],
[2.8,.973],[2.829,.979],[2.892,.972],[2.924,.977],[2.996,.981],[3.035,.973],[3.103,.979],[3.15,.972],[3.179,.977],[3.219,.981],
[2.798,.961],[2.87,.967],[2.909,.96],[2.977,.965],[3.024,.969],[3.053,.961],[3.116,.967],[3.148,.96],[3.22,.965],[3.238,.969],
[2.803,.949],[2.85,.955],[2.879,.948],[2.942,.953],[2.974,.957],[3.046,.949],[3.085,.955],[3.153,.948],[3.2,.953],[3.216,.957],
[2.816,.937],[2.848,.943],[2.92,.936],[2.959,.941],[3.027,.945],[3.074,.937],[3.103,.943],[3.166,.936],[3.198,.941],[3.243,.945],
[2.835,.925],[2.903,.931],[2.95,.924],[2.979,.929],[3.042,.933],[3.074,.925],[3.146,.931],[3.185,.924],[3.235,.929],
[2.874,.921],[2.903,.913],[2.966,.919],[2.998,.912],[3.07,.917],[3.109,.921],[3.177,.913],[3.202,.919],
[2.77,.99],[3.23,.99],[2.76,.945],[3.255,.925],[2.8,.915],[3.2,.91],[2.85,1.0],[3.18,.998]
];
const anchored4 = [
[4.199,1.017],[3.961,1.022],[3.99,1.012],[4.05,1.01],[4.08,1.01],[3.87,1.007],[3.93,1.004],
[3.8,.998],[3.85,.994],[3.9,.999],[3.95,.995],[4.0,.999],[4.05,.994],[4.1,.998],[4.15,.995],[4.2,.999],
[3.73,.984],[3.77,.988],[3.82,.983],[3.87,.987],[3.92,.982],[3.97,.986],[4.02,.983],[4.07,.987],[4.12,.984],[4.17,.988],[4.22,.983],
[3.75,.974],[3.795,.97],[3.845,.975],[3.895,.971],[3.945,.975],[3.995,.97],[4.045,.974],[4.095,.971],[4.145,.975],[4.195,.972],[4.24,.976],
[3.73,.96],[3.77,.964],[3.82,.959],[3.87,.963],[3.92,.958],[3.97,.962],[4.02,.959],[4.07,.963],[4.12,.96],[4.17,.964],[4.22,.959],
[3.75,.95],[3.795,.946],[3.845,.951],[3.895,.947],[3.945,.951],[3.995,.946],[4.045,.95],[4.095,.947],[4.145,.951],[4.195,.948],[4.23,.952],
[3.79,.936],[3.84,.94],[3.89,.935],[3.94,.939],[3.99,.934],[4.04,.938],[4.09,.935],[4.14,.939],[4.19,.936],
[3.93,.926],[4.0,.929],[4.06,.925],[4.12,.928],[4.18,.926],
[3.629,.986],[3.671,.976],[3.636,.964],[3.713,.987],[4.278,.987],[4.273,.967],[3.899,.917],[3.929,.917],[3.991,.92],[3.913,.929],
[4.26,.975]
];
const anchored4b = [
[3.85,1.006],[3.879,.999],[3.942,1.004],[3.974,1.008],[4.046,1.0],[4.085,1.006],[4.153,.999],[4.192,1.004],
[3.753,.996],[3.816,.988],[3.848,.994],[3.92,.987],[3.959,.992],[4.027,.996],[4.074,.988],[4.103,.994],[4.166,.987],[4.198,.992],
[3.746,.984],[3.785,.976],[3.853,.982],[3.9,.975],[3.929,.98],[3.992,.984],[4.024,.976],[4.096,.982],[4.135,.975],[4.203,.98],[4.237,.984],
[3.753,.964],[3.816,.97],[3.848,.963],[3.92,.968],[3.959,.972],[4.027,.964],[4.074,.97],[4.103,.963],[4.166,.968],[4.198,.972],[4.248,.964],
[3.735,.958],[3.803,.951],[3.85,.956],[3.879,.96],[3.942,.952],[3.974,.958],[4.046,.951],[4.085,.956],[4.153,.96],[4.2,.952],[4.216,.958],
[3.766,.939],[3.798,.944],[3.87,.948],[3.909,.94],[3.977,.946],[4.024,.939],[4.053,.944],[4.116,.948],[4.148,.94],[4.22,.946],
[3.859,.927],[3.927,.932],[3.974,.936],[4.003,.928],[4.066,.934],[4.098,.927],[4.17,.932],
[3.72,.995],[4.25,.995],[3.7,.97],[4.26,.955],[3.76,.93],[4.22,.93],[3.82,1.005],[4.15,1.012]
];

const naiveAll = [].concat(naive0, naive0b, naive1, naive1b, naive2, naive2b, naive3, naive3b, naive4, naive4b);
const anchoredAll = [].concat(anchored0, anchored0b, anchored1, anchored1b, anchored2, anchored2b, anchored3, anchored3b, anchored4, anchored4b);

const RED = '#dc1c3c';
const GREEN = '#4b7355';
const FONT = 'DejaVu Sans';

const chart = echarts.init(document.getElementById('chart'), null, {renderer: 'canvas'});

const axisLineStyle = {show: true, onZero: false, lineStyle: {color: '#000', width: 9}};
const tickStyle = {show: true, inside: true, length: 30, lineStyle: {color: '#000', width: 3}};

const xFmt = v => (xTicks.indexOf(Math.round(v)) >= 0 && Math.abs(v - Math.round(v)) < 1e-6) ? String(Math.round(v)) : '';
const yFmt = v => {
  for (const t of yTicks) { if (Math.abs(v - t) < 1e-6) return t.toFixed(1); }
  return '';
};

const legendIcon = 'path://M0,9.5A9.5,9.5,0,1,1,19,9.5A9.5,9.5,0,1,1,0,9.5ZM118,9.5A9.5,9.5,0,1,1,137,9.5A9.5,9.5,0,1,1,118,9.5Z';

chart.setOption({
  animation: false,
  backgroundColor: '#fff',
  grid: {left: 338, right: 15, top: 12, bottom: 278, containLabel: false},
  legend: {
    show: true,
    orient: 'vertical',
    left: 1794,
    top: 1110,
    padding: [27, 28, 38, 49],
    backgroundColor: '#fff',
    borderColor: '#000',
    borderWidth: 8,
    borderRadius: 0,
    itemWidth: 137,
    itemHeight: 19,
    itemGap: 38,
    selectedMode: false,
    icon: legendIcon,
    textStyle: {fontFamily: FONT, fontSize: 84, color: '#000', lineHeight: 84, padding: [0, 0, 0, 76]},
    data: seriesNames
  },
  xAxis: [
    {
      type: 'value', position: 'bottom', min: -1, max: 5, interval: 1,
      axisLine: axisLineStyle, axisTick: tickStyle, splitLine: {show: false},
      axisLabel: {show: true, formatter: xFmt, fontFamily: FONT, fontSize: 100, color: '#000', margin: 24, lineHeight: 100},
      name: xTitle + '{i|' + xTitleVar + '}',
      nameLocation: 'middle',
      nameGap: 166,
      nameTextStyle: {fontFamily: FONT, fontSize: 100, color: '#000', lineHeight: 100,
        rich: {i: {fontFamily: 'Liberation Serif', fontStyle: 'italic', fontSize: 108, color: '#000', lineHeight: 100}}}
    },
    {
      type: 'value', position: 'top', min: -1, max: 5, interval: 1,
      axisLine: axisLineStyle, axisTick: tickStyle, splitLine: {show: false},
      axisLabel: {show: false}
    }
  ],
  yAxis: [
    {
      type: 'value', position: 'left', min: 0.2, max: 1.1, interval: 0.2,
      axisLine: axisLineStyle, axisTick: tickStyle, splitLine: {show: false},
      axisLabel: {show: true, formatter: yFmt, fontFamily: FONT, fontSize: 100, color: '#000', margin: 22},
      name: yTitle + '{i|' + yTitleVar + '}',
      nameLocation: 'middle',
      nameGap: 243,
      nameTextStyle: {fontFamily: FONT, fontSize: 100, color: '#000', lineHeight: 100,
        rich: {i: {fontFamily: 'Liberation Serif', fontStyle: 'italic', fontSize: 108, color: '#000', lineHeight: 100}}}
    },
    {
      type: 'value', position: 'right', min: 0.2, max: 1.1, interval: 0.2,
      axisLine: axisLineStyle, axisTick: tickStyle, splitLine: {show: false},
      axisLabel: {show: false}
    }
  ],
  series: [
    {
      name: seriesNames[0], type: 'scatter', xAxisIndex: 0, yAxisIndex: 0,
      data: naiveAll, symbol: 'circle', symbolSize: 18, progressive: 0, large: false,
      itemStyle: {color: RED, borderColor: '#000', borderWidth: 3.5, opacity: 1},
      emphasis: {disabled: true}
    },
    {
      name: seriesNames[1], type: 'scatter', xAxisIndex: 0, yAxisIndex: 0,
      data: anchoredAll, symbol: 'circle', symbolSize: 18, progressive: 0, large: false,
      itemStyle: {color: GREEN, borderColor: '#000', borderWidth: 3.5, opacity: 1},
      emphasis: {disabled: true}
    }
  ]
});
</script>
</body>
</html>
